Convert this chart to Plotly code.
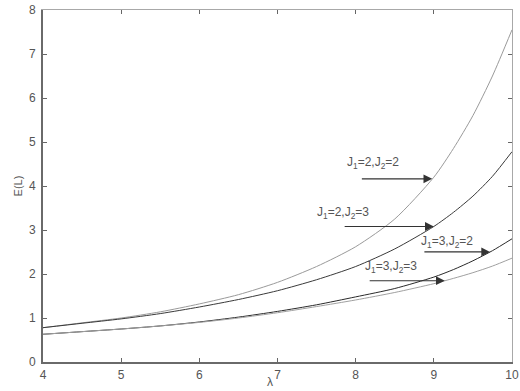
import numpy as np
import plotly.graph_objects as go

# Expected value E(L) as a function of lambda for four (J1, J2) settings
lam = [4.0, 4.5, 5.0, 5.5, 6.0, 6.5, 7.0, 7.5, 8.0, 8.5, 9.0, 9.25, 9.5, 9.75, 10.0]
e_22 = [0.78, 0.89, 1.00, 1.14, 1.32, 1.53, 1.81, 2.17, 2.62, 3.25, 4.20, 4.85, 5.60, 6.50, 7.55]
e_23 = [0.78, 0.88, 0.98, 1.10, 1.25, 1.42, 1.62, 1.87, 2.17, 2.57, 3.08, 3.40, 3.77, 4.22, 4.78]
e_32 = [0.63, 0.69, 0.75, 0.82, 0.91, 1.02, 1.15, 1.30, 1.48, 1.67, 1.93, 2.10, 2.30, 2.53, 2.80]
e_33 = [0.63, 0.69, 0.75, 0.82, 0.90, 1.00, 1.12, 1.26, 1.41, 1.58, 1.78, 1.90, 2.03, 2.18, 2.36]

labels = ["J<sub>1</sub>=2,J<sub>2</sub>=2", "J<sub>1</sub>=2,J<sub>2</sub>=3",
          "J<sub>1</sub>=3,J<sub>2</sub>=2", "J<sub>1</sub>=3,J<sub>2</sub>=3"]
series = [e_22, e_23, e_32, e_33]
colors = ["#9a9a9a", "#3a3a3a", "#2a2a2a", "#a0a0a0"]

# arrow head / tail lambda and label anchor (data units) per curve
arrow_tip = [8.98, 9.0, 9.72, 9.14]
arrow_tail = [8.06, 7.84, 8.86, 8.16]
label_x = [7.86, 7.48, 8.81, 8.09]
label_y = [4.52, 3.39, 2.73, 2.16]

x_ticks = [4, 5, 6, 7, 8, 9, 10]
y_ticks = [0, 1, 2, 3, 4, 5, 6, 7, 8]

fig = go.Figure()
for ys, c in zip(series, colors):
    fig.add_trace(go.Scatter(x=lam, y=ys, mode="lines",
                             line=dict(color=c, width=1, shape="spline", smoothing=0.7),
                             showlegend=False, hoverinfo="skip"))

# invisible trace to carry the mirrored (top/right) frame axes
fig.add_trace(go.Scatter(x=[4, 10], y=[0, 8], xaxis="x2", yaxis="y2", mode="none",
                         showlegend=False, hoverinfo="skip"))

font_family = "Liberation Sans, Arial, sans-serif"
for lab, ys, tip, tail, lx, ly in zip(labels, series, arrow_tip, arrow_tail, label_x, label_y):
    y_tip = float(np.interp(tip, lam, ys))
    fig.add_annotation(x=tip, y=y_tip, ax=tail, ay=y_tip, xref="x", yref="y",
                       axref="x", ayref="y", showarrow=True, arrowhead=2,
                       arrowsize=1.6, arrowwidth=1.1, arrowcolor="#333333", text="")
    fig.add_annotation(x=lx, y=ly, xref="x", yref="y", text=lab,
                       showarrow=False, xanchor="left", yanchor="middle",
                       font=dict(family=font_family, size=12, color="#555555"))

# x-axis title, set a little left of centre below the tick labels
fig.add_annotation(x=0.484, y=-0.058, xref="paper", yref="paper", text="λ",
                   showarrow=False, xanchor="center", yanchor="middle",
                   font=dict(family=font_family, size=12, color="#555555"))

axis_common = dict(ticks="inside", ticklen=4, tickcolor="#666666", showgrid=False,
                   zeroline=False, automargin=False)
fig.update_layout(
    width=520, height=391,
    margin=dict(l=43, r=8, t=10, b=29),
    paper_bgcolor="white", plot_bgcolor="white",
    font=dict(family=font_family, size=12, color="#555555"),
    xaxis=dict(range=[4, 10], tickvals=x_ticks, showline=True, linecolor="#6a6a6a",
               linewidth=2, ticklabelstandoff=1, **axis_common),
    yaxis=dict(range=[0, 8], tickvals=y_ticks, showline=True, linecolor="#6a6a6a",
               linewidth=2, ticklabelstandoff=3,
               title=dict(text="E(L)", standoff=4, font=dict(size=11, color="#555555")),
               **axis_common),
    xaxis2=dict(range=[4, 10], tickvals=x_ticks, overlaying="x", side="top",
                anchor="y2", showline=True, linecolor="#a8a8a8", linewidth=1,
                showticklabels=False, **axis_common),
    yaxis2=dict(range=[0, 8], tickvals=y_ticks, overlaying="y", side="right",
                anchor="x2", showline=True, linecolor="#a8a8a8", linewidth=1,
                showticklabels=False, **axis_common),
)

fig.write_html("out.html")
